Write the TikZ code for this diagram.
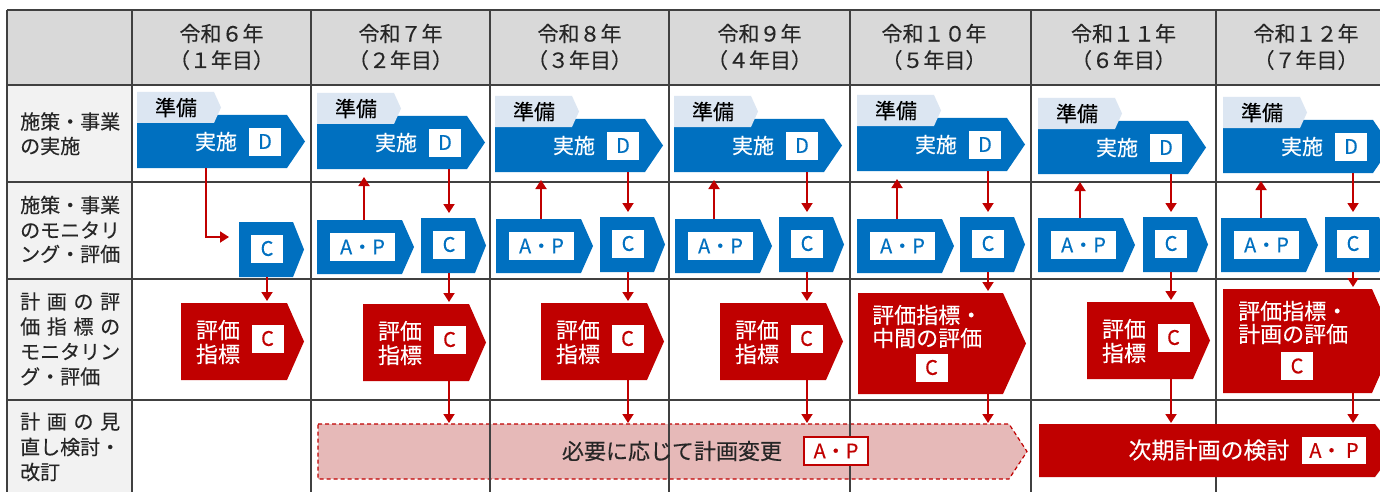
\documentclass[tikz,border=0pt]{standalone}
\usepackage{fontspec}
\setmainfont{Noto Sans CJK JP}[FakeBold=0.3]
\usetikzlibrary{arrows.meta,fit}
\definecolor{bl}{HTML}{0070C0}
\definecolor{tabc}{HTML}{DCE6F2}
\definecolor{rd}{HTML}{C00000}
\definecolor{pk}{HTML}{E6B9B8}
\definecolor{hdr}{HTML}{D9D9D9}
\definecolor{lab}{HTML}{F2F2F2}
\definecolor{gridc}{HTML}{404040}
\definecolor{ink}{HTML}{262626}
\newcommand\jsz[1]{\fontsize{#1}{#1}\selectfont}
\newcommand\pentshape[7]{%
  \path[#2] ({#3},{#4}) -- ({(#5)-(#7)},{#4}) -- ({#5},{((#4)+(#6))/2}) -- ({(#5)-(#7)},{#6}) -- ({#3},{#6}) -- cycle;
  \node[fit={({#3},{#4}) ({(#5)-(#7)},{#6})}, inner sep=0pt, outer sep=0pt] (#1) {};}
\newcommand\rowone[3]{%
  \pentshape{d#1}{fill=bl}{#2}{#3}{#2+168}{#3+53}{18}
  \pentshape{t#1}{fill=tabc}{#2}{#3-23}{#2+84}{#3+8}{7}
  \node[tabtext] (tt#1) at ({#2+39},{#3-7.5}) {準備};
  \node[wtext] (dt#1) at ({#2+79},{#3+26.5}) {実施};
  \node[bbox] (db#1) at ({#2+128},{#3+26.5}) {D};}
\newcommand\apshape[3]{%
  \pentshape{ap#1}{fill=bl}{#2}{#3}{#2+97}{#3+54}{12}
  \node[bbox, minimum width=65pt] (apb#1) at ({#2+45.5},{#3+27}) {A・P};}
\newcommand\cshape[3]{%
  \pentshape{c#1}{fill=bl}{#2}{#3}{#2+65}{#3+55}{11}
  \node[bbox] (cb#1) at ({#2+28},{#3+26.5}) {C};}
\newcommand\redshape[3]{%
  \pentshape{r#1}{fill=rd}{#2}{#3}{#2+123}{#3+77}{17}
  \node[rtext] (rt#1) at ({#2+37},{#3+39}) {評価\\指標};
  \node[rbox] (rb#1) at ({#2+86.5},{#3+35.5}) {C};}
\tikzset{
  hdrtext/.style={inner sep=0pt, text=ink, font=\jsz{21}},
  labtext/.style={inner sep=0pt, text=ink, font=\jsz{20}, anchor=west},
  tabtext/.style={inner sep=0pt, text=black, font=\jsz{21}},
  wtext/.style={inner sep=0pt, text=white, font=\jsz{21}},
  bbox/.style={fill=white, inner sep=0pt, minimum width=32pt, minimum height=28pt, text=bl, font=\jsz{20}},
  rbox/.style={bbox, text=rd},
  rtext/.style={inner sep=0pt, text=white, align=center, font=\fontsize{22}{24}\selectfont},
  rltext/.style={inner sep=0pt, text=white, anchor=west, font=\jsz{22}},
  gridline/.style={draw=gridc, line width=1.3pt},
  arr/.style={draw=rd, line width=1.8pt, -{Triangle[width=11pt,length=9pt]}},
}
\begin{document}
\begin{tikzpicture}[x=1pt,y=-1pt]
\useasboundingbox (0,0) rectangle (1380,492);
\clip (0,0) rectangle (1380,492);
\fill[white] (0,0) rectangle (1380,492);
\fill[hdr] (7,10) rectangle (1380,85);
\fill[lab] (7,85) rectangle (132,492);
% dashed plan-change box (under grid)
\pentshape{chg}{fill=pk, draw=rd, line width=1.2pt, dash pattern=on 4pt off 3pt}{318}{424}{1027}{479}{18}
% grid
\foreach \x in {7,132,311,490,669,850,1031,1216} \draw[gridline] (\x,10) -- (\x,492);
\foreach \y in {10,85,182,279,400} \draw[gridline] (7,\y) -- (1380,\y);
% header
\node[hdrtext] (h1a) at (221.5,33.5) {令和６年};
\node[hdrtext] (h1b) at (221.5,60) {（１年目）};
\node[hdrtext] (h2a) at (400.5,33.5) {令和７年};
\node[hdrtext] (h2b) at (400.5,60) {（２年目）};
\node[hdrtext] (h3a) at (579.5,33.5) {令和８年};
\node[hdrtext] (h3b) at (579.5,60) {（３年目）};
\node[hdrtext] (h4a) at (759.5,33.5) {令和９年};
\node[hdrtext] (h4b) at (759.5,60) {（４年目）};
\node[hdrtext] (h5a) at (934,33.5) {令和１０年};
\node[hdrtext] (h5b) at (934,60) {（５年目）};
\node[hdrtext] (h6a) at (1123.5,33.5) {令和１１年};
\node[hdrtext] (h6b) at (1123.5,60) {（６年目）};
\node[hdrtext] (h7a) at (1306,33.5) {令和１２年};
\node[hdrtext] (h7b) at (1306,60) {（７年目）};
% row labels
\node[labtext] (l1a) at (20,121.5) {施策・事業};
\node[labtext] (l1b) at (20,146) {の実施};
\node[labtext] (l2a) at (20,205) {施策・事業};
\node[labtext] (l2b) at (20,230) {のモニタリ};
\node[labtext] (l2c) at (20,254) {ング・評価};
\node[labtext] (l3a) at (20,301.5) {\makebox[100pt][s]{計\hfill 画\hfill の\hfill 評}};
\node[labtext] (l3b) at (20,326.5) {\makebox[100pt][s]{価\hfill 指\hfill 標\hfill の}};
\node[labtext] (l3c) at (20,351.5) {\makebox[100pt][s]{モ\hfill ニ\hfill タ\hfill リ\hfill ン}};
\node[labtext] (l3d) at (20,376.5) {グ・評価};
\node[labtext] (l4a) at (20,421.5) {\makebox[100pt][s]{計\hfill 画\hfill の\hfill 見}};
\node[labtext] (l4b) at (20,447) {直し検討・};
\node[labtext] (l4c) at (20,472) {改訂};
% row 1
\rowone{1}{137}{115}
\rowone{2}{317}{116}
\rowone{3}{495}{119}
\rowone{4}{674}{119}
\rowone{5}{857}{118}
\rowone{6}{1038}{121}
\rowone{7}{1223}{120}
% row 2
\cshape{1}{239}{222}
\apshape{2}{317}{220} \cshape{2}{421}{218}
\apshape{3}{496}{219} \cshape{3}{600}{217}
\apshape{4}{675}{219} \cshape{4}{779}{217}
\apshape{5}{857}{219} \cshape{5}{960}{217}
\apshape{6}{1038}{218} \cshape{6}{1143}{217}
\apshape{7}{1221}{218} \cshape{7}{1325}{217}
% row 3
\redshape{1}{181}{303}
\redshape{2}{363}{304}
\redshape{3}{541}{303}
\redshape{4}{720}{303}
\redshape{6}{1087}{302}
\pentshape{r5}{fill=rd}{858}{293}{1026}{394}{23}
\node[rltext] (rt5a) at (872,315) {評価指標・};
\node[rltext] (rt5b) at (872,338) {中間の評価};
\node[rbox] (rb5) at (931.5,367.5) {C};
\pentshape{r7}{fill=rd}{1223}{289}{1395}{393}{23}
\node[rltext] (rt7a) at (1238,311) {評価指標・};
\node[rltext] (rt7b) at (1238,334) {計画の評価};
\node[rbox] (rb7) at (1297,366) {C};
% row 4
\node[inner sep=0pt, text=ink, font=\jsz{22}] (chgt) at (672,451) {必要に応じて計画変更};
\node[fill=white, draw=rd, line width=1.5pt, inner sep=0pt, minimum width=64pt, minimum height=28pt, text=rd, font=\jsz{20}] (chgb) at (836,451) {A・P};
\pentshape{nxt}{fill=rd}{1039}{424}{1395}{477}{20}
\node[inner sep=0pt, text=white, font=\jsz{23}] (nxtt) at (1209,450) {次期計画の検討};
\node[fill=white, inner sep=0pt, minimum width=64pt, minimum height=27pt, text=rd, font=\jsz{20}] (nxtb) at (1334,450.5) {A・ P};
% arrows
\coordinate (e1) at (206,237);
\draw[arr, shorten >=10pt] (e1 |- d1.south) -- (e1) -- (e1 -| c1.west);
\draw[arr, shorten >=2pt] (cb1 |- c1.south) -- (cb1 |- r1.north);
\foreach \i/\ux/\tgt in {2/364/chg,3/541/chg,4/714/chg,5/897/chg,6/1080/nxt,7/1261/nxt}{
  \coordinate (ux\i) at (\ux,0);
  \draw[arr, shorten >=8pt] (ap\i.north -| ux\i) -- (d\i.south -| ux\i);
  \draw[arr, shorten >=5pt] (cb\i |- d\i.south) -- (cb\i |- c\i.north);
  \draw[arr, shorten >=2pt] (cb\i |- c\i.south) -- (cb\i |- r\i.north);
  \draw[arr, shorten >=1pt] (cb\i |- r\i.south) -- (cb\i |- \tgt.north);
}
\end{tikzpicture}
\end{document}
